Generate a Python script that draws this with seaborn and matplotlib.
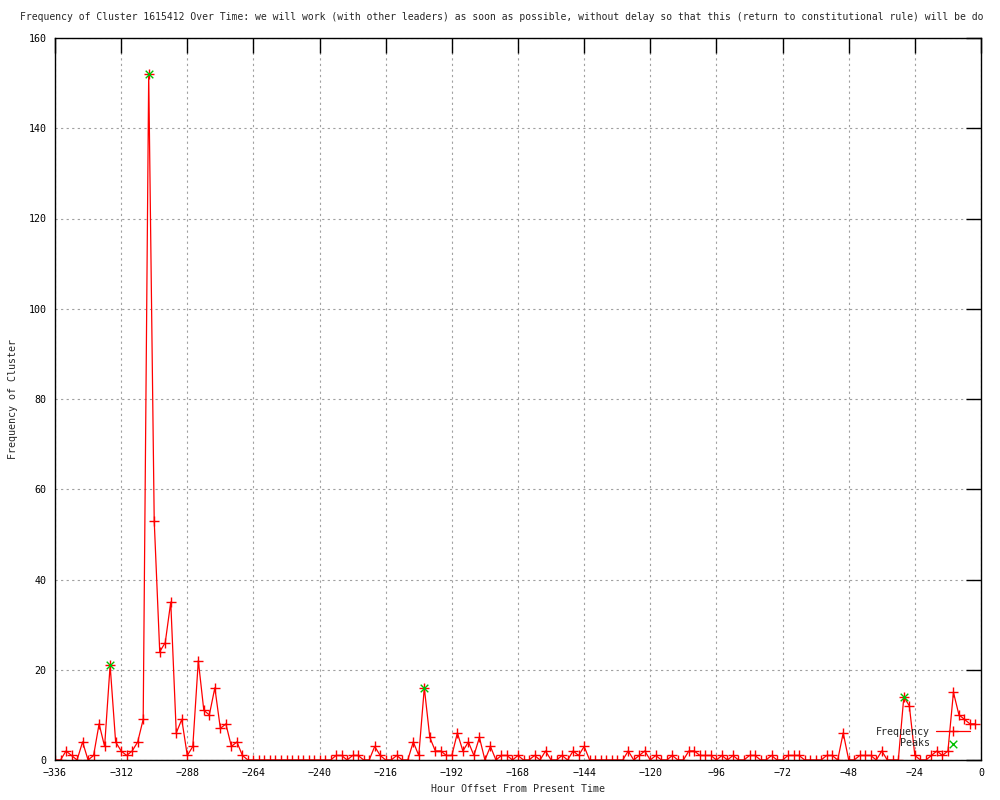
import numpy as np
import pandas as pd
import matplotlib
matplotlib.use('Agg')
import matplotlib.pyplot as plt
import seaborn as sns

# hourly bins, every 2 hours from -336 up to -2
hours = np.arange(-336, 0, 2)
frequency = [
    0, 0, 2, 1, 0, 4, 0, 1, 8, 3, 21, 4,        # -336 .. -314
    2, 1, 2, 4, 9, 152, 53, 24, 26, 35, 6, 9,   # -312 .. -290
    1, 3, 22, 11, 10, 16, 7, 8, 3, 4, 1, 0,     # -288 .. -266
    0, 0, 0, 0, 0, 0, 0, 0, 0, 0, 0, 0,         # -264 .. -242
    0, 0, 0, 1, 1, 0, 1, 1, 0, 0, 3, 1,         # -240 .. -218
    0, 0, 1, 0, 0, 4, 1, 16, 5, 2, 2, 1,        # -216 .. -194
    1, 6, 2, 4, 1, 5, 0, 3, 0, 1, 1, 0,         # -192 .. -170
    1, 0, 0, 1, 0, 2, 0, 0, 1, 0, 2, 1,         # -168 .. -146
    3, 0, 0, 0, 0, 0, 0, 0, 2, 0, 1, 2,         # -144 .. -122
    0, 1, 0, 0, 1, 0, 0, 2, 2, 1, 1, 1,         # -120 .. -98
    0, 1, 0, 1, 0, 0, 1, 1, 0, 0, 1, 0,         # -96 .. -74
    0, 1, 1, 1, 0, 0, 0, 0, 1, 1, 0, 6,         # -72 .. -50
    0, 0, 1, 1, 1, 0, 2, 0, 0, 0, 14, 12,       # -48 .. -26
    1, 0, 0, 1, 2, 1, 2, 15, 10, 9, 8, 8,       # -24 .. -2
]
peak_hours = [-316, -302, -202, -28]
peak_values = [21, 152, 16, 14]

x_ticks = list(range(-336, 1, 24))
y_ticks = list(range(0, 161, 20))

# the reference title runs off the right edge; keep the part that shows
title = ('Frequency of Cluster 1615412 Over Time: we will work (with other leaders) '
         'as soon as possible, without delay so that this (return to constitutional '
         'rule) will be do')

sns.set_style('white')
plt.rcParams['font.family'] = ['DejaVu Sans Mono']
FS = 7.2

df = pd.DataFrame({'hour': hours, 'frequency': frequency})
peaks = pd.DataFrame({'hour': peak_hours, 'frequency': peak_values})

fig = plt.figure(figsize=(10, 8), dpi=100)
ax = fig.add_axes([0.055, 0.05, 0.926, 0.9025])

sns.lineplot(data=df, x='hour', y='frequency', ax=ax, color='#ff0000',
             linewidth=0.9, marker='+', markersize=7, markeredgewidth=1.0,
             markeredgecolor='#ff0000', label='Frequency')
sns.scatterplot(data=peaks, x='hour', y='frequency', ax=ax, marker='x',
                color='#00c000', s=30, linewidth=1.0, label='Peaks', zorder=4)

ax.set_xlim(-336, 0)
ax.set_ylim(0, 160)
ax.set_xticks(x_ticks)
ax.set_yticks(y_ticks)
ax.grid(True, color='#a0a0a0', linestyle=(0, (2, 3)), linewidth=0.8)
ax.tick_params(direction='in', length=11, width=1, top=True, right=True,
               labelsize=FS, pad=6, colors='black')
for s in ax.spines.values():
    s.set_color('black')
    s.set_linewidth(1)

ax.set_xlabel('Hour Offset From Present Time', fontsize=FS, labelpad=4)
ax.set_ylabel('Frequency of Cluster', fontsize=FS, labelpad=8)

ax.legend(loc='lower right', bbox_to_anchor=(0.995, 0.008), frameon=False,
          markerfirst=False, fontsize=FS, handlelength=3.4, labelspacing=0.15,
          handletextpad=0.6, borderaxespad=0.2)

fig.text(0.02, 0.979, title, ha='left', va='center', fontsize=7.05)

fig.savefig('out.png', dpi=100)
